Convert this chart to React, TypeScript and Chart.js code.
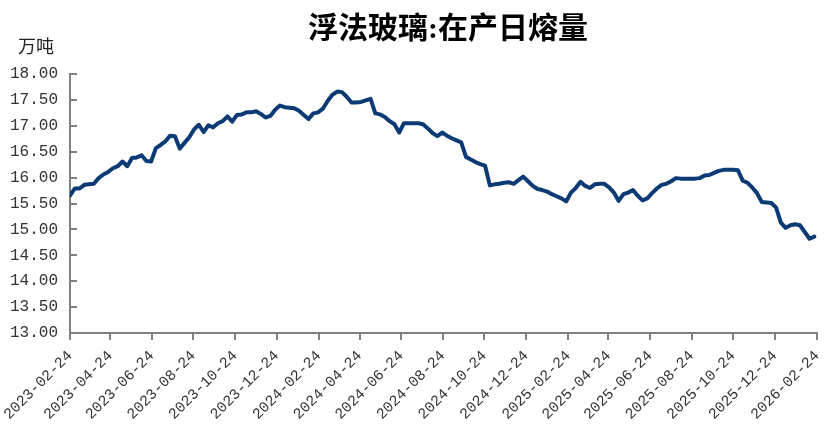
import React, { useEffect, useRef } from "react";
import { Chart, registerables } from "chart.js";

Chart.register(...registerables);

const TITLE = "浮法玻璃:在产日熔量";
const UNIT = "万吨";
const START_DATE = "2023-02-24";
const WEEK_DAYS = 7;

const TICK_DATES = [
  "2023-02-24", "2023-04-24", "2023-06-24", "2023-08-24", "2023-10-24", "2023-12-24",
  "2024-02-24", "2024-04-24", "2024-06-24", "2024-08-24", "2024-10-24", "2024-12-24",
  "2025-02-24", "2025-04-24", "2025-06-24", "2025-08-24", "2025-10-24", "2025-12-24",
  "2026-02-24",
];

const Y_MIN = 13;
const Y_MAX = 18;
const Y_STEP = 0.5;

// weekly in-production daily melting capacity (万吨)
const VALUES = [
  15.65, 15.79, 15.79, 15.86, 15.87, 15.88, 15.99, 16.06, 16.11, 16.18,
  16.22, 16.31, 16.22, 16.38, 16.39, 16.43, 16.32, 16.31, 16.57, 16.63,
  16.70, 16.81, 16.80, 16.56, 16.67, 16.78, 16.93, 17.02, 16.88, 17.01,
  16.97, 17.05, 17.09, 17.18, 17.08, 17.21, 17.22, 17.26, 17.26, 17.28,
  17.23, 17.16, 17.19, 17.31, 17.39, 17.36, 17.35, 17.34, 17.29, 17.21,
  17.13, 17.24, 17.26, 17.33, 17.48, 17.60, 17.66, 17.65, 17.56, 17.45,
  17.45, 17.46, 17.49, 17.52, 17.24, 17.22, 17.17, 17.09, 17.03, 16.87,
  17.05, 17.05, 17.05, 17.05, 17.03, 16.95, 16.86, 16.80, 16.87, 16.81,
  16.76, 16.72, 16.68, 16.40, 16.35, 16.30, 16.26, 16.23, 15.85, 15.87,
  15.88, 15.90, 15.91, 15.88, 15.95, 16.02, 15.93, 15.84, 15.78, 15.76,
  15.73, 15.68, 15.64, 15.60, 15.54, 15.71, 15.80, 15.92, 15.84, 15.80,
  15.87, 15.88, 15.88, 15.81, 15.71, 15.55, 15.68, 15.71, 15.76, 15.65,
  15.56, 15.60, 15.70, 15.79, 15.86, 15.88, 15.93, 15.99, 15.98, 15.98,
  15.98, 15.98, 15.99, 16.04, 16.05, 16.09, 16.13, 16.15, 16.15, 16.15,
  16.14, 15.94, 15.90, 15.81, 15.70, 15.53, 15.52, 15.51, 15.42, 15.13,
  15.03, 15.08, 15.10, 15.08, 14.95, 14.82, 14.86,
];

const DAY_MS = 86400000;
const START_MS = Date.parse(START_DATE + "T00:00:00Z");
const dayOffset = (s: string) => (Date.parse(s + "T00:00:00Z") - START_MS) / DAY_MS;

const DATES = VALUES.map((_, i) =>
  new Date(START_MS + i * WEEK_DAYS * DAY_MS).toISOString().slice(0, 10)
);

const TICK_LABEL_BY_DAY = new Map(TICK_DATES.map((d) => [dayOffset(d), d]));

const AXIS_COLOR = "#808080";
const LINE_COLOR = "#0c3a74";
const TEXT_COLOR = "#333333";

const overlayPlugin = {
  id: "overlay",
  afterDraw(chart: any) {
    const { ctx, chartArea, scales } = chart;
    const y = scales.y;
    ctx.save();
    ctx.strokeStyle = AXIS_COLOR;
    ctx.lineWidth = 2;
    y.ticks.forEach((t: any) => {
      const py = Math.round(y.getPixelForValue(t.value));
      ctx.beginPath();
      ctx.moveTo(chartArea.left, py);
      ctx.lineTo(chartArea.left + 7, py);
      ctx.stroke();
    });
    ctx.fillStyle = "#000";
    ctx.font = 'bold 30px "Liberation Serif", "Noto Sans CJK SC", serif';
    ctx.textAlign = "center";
    ctx.textBaseline = "middle";
    ctx.fillText(TITLE, 448, 30);
    ctx.fillStyle = "#222";
    ctx.font = '18px "Noto Sans CJK SC", sans-serif';
    ctx.textAlign = "left";
    ctx.fillText(UNIT, 18, 46);
    ctx.restore();
  },
};

export default function App() {
  const canvasRef = useRef<HTMLCanvasElement | null>(null);

  useEffect(() => {
    if (!canvasRef.current) return;
    const chart = new Chart(canvasRef.current, {
      type: "line",
      data: {
        datasets: [
          {
            data: DATES.map((d, i) => ({ x: dayOffset(d), y: VALUES[i] })),
            borderColor: LINE_COLOR,
            borderWidth: 4,
            pointRadius: 0,
            tension: 0,
            fill: false,
            borderJoinStyle: "round",
            borderCapStyle: "round",
          },
        ],
      },
      options: {
        animation: false,
        responsive: false,
        maintainAspectRatio: false,
        layout: { padding: { top: 74, right: 11, left: 0, bottom: 0 } },
        plugins: {
          legend: { display: false },
          title: { display: false },
          tooltip: { enabled: false },
        },
        scales: {
          x: {
            type: "linear",
            min: 0,
            max: dayOffset(TICK_DATES[TICK_DATES.length - 1]),
            afterBuildTicks: (scale: any) => {
              scale.ticks = TICK_DATES.map((d) => ({ value: dayOffset(d) }));
            },
            afterFit: (scale: any) => {
              scale.height = 107;
              scale.paddingRight = 0;
              scale.paddingLeft = 0;
            },
            ticks: {
              autoSkip: false,
              maxRotation: 45,
              minRotation: 45,
              padding: 7,
              color: TEXT_COLOR,
              font: { family: '"Liberation Mono", monospace', size: 15 },
              callback: (v: any) => TICK_LABEL_BY_DAY.get(v) ?? "",
            },
            grid: {
              drawOnChartArea: false,
              drawTicks: true,
              tickLength: 7,
              color: AXIS_COLOR,
              lineWidth: 2,
            },
            border: { color: AXIS_COLOR, width: 2 },
          },
          y: {
            min: Y_MIN,
            max: Y_MAX,
            afterFit: (scale: any) => {
              scale.width = 70;
            },
            ticks: {
              stepSize: Y_STEP,
              padding: 12,
              color: TEXT_COLOR,
              font: { family: '"Liberation Mono", monospace', size: 16 },
              callback: (v: any) => Number(v).toFixed(2),
            },
            grid: { drawOnChartArea: false, drawTicks: false },
            border: { color: AXIS_COLOR, width: 2 },
          },
        },
      },
      plugins: [overlayPlugin],
    } as any);
    return () => chart.destroy();
  }, []);

  return (
    <div
      style={{
        position: "fixed",
        left: 0,
        top: 0,
        width: 828,
        height: 440,
        background: "#ffffff",
      }}
    >
      <canvas ref={canvasRef} width={828} height={440} style={{ display: "block" }} />
    </div>
  );
}
